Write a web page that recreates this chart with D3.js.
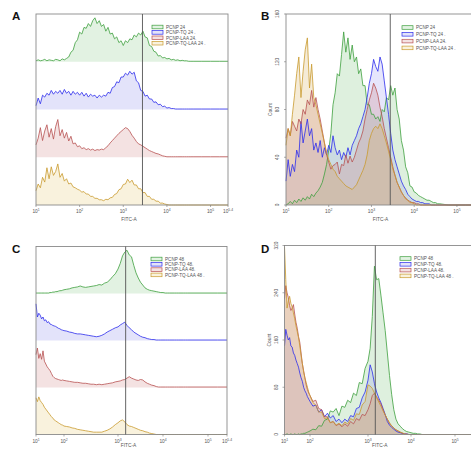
<!DOCTYPE html>
<html>
<head>
<meta charset="utf-8">
<script src="https://cdn.jsdelivr.net/npm/d3@7"></script>
<style>
  body { margin: 0; background: #fff; }
  text { font-family: "Liberation Sans", Arial, sans-serif; }
</style>
</head>
<body>
<div id="chart"></div>
<script>
// FITC-A channel bins, log10 units
const bins = [1.00,1.05,1.10,1.15,1.20,1.25,1.30,1.35,1.40,1.45,
              1.50,1.55,1.60,1.65,1.70,1.75,1.80,1.85,1.90,1.95,
              2.00,2.05,2.10,2.15,2.20,2.25,2.30,2.35,2.40,2.45,
              2.50,2.55,2.60,2.65,2.70,2.75,2.80,2.85,2.90,2.95,
              3.00,3.05,3.10,3.15,3.20,3.25,3.30,3.35,3.40,3.45,
              3.50,3.55,3.60,3.65,3.70,3.75,3.80,3.85,3.90,3.95,
              4.00,4.05,4.10,4.15,4.20,4.25,4.30,4.35,4.40,4.45,
              4.50,4.55,4.60,
              4.80,5.00,5.20,5.40]

const names24 = ["PCNP 24", "PCNP-TQ 24 .", "PCNP-LAA 24.", "PCNP-TQ-LAA 24 ."]
const names48 = ["PCNP 48", "PCNP-TQ 48.", "PCNP-LAA 48.", "PCNP-TQ-LAA 48 ."]
const decadeTicks = [1, 2, 3, 4, 5, 5.4]
const visibleTicksBD = [1, 2, 3, 4, 5]
const countTicksB = [0, 40, 80, 120, 160]
const countTicksD = [0, 80, 160, 240, 320]
const gate24 = 3.44
const gate48 = 3.17

// panel A: offset histograms, % of mode (24 h)
const a24Green = [2,4,2,3,5,2,4,3,2,5, 4,2,6,4,7,10,20,24,40,46, 62,58,72,70,80,74,86,92,80,86,
  74,78,64,72,58,60,48,52,40,44, 34,44,40,48,46,56,52,60,56,64, 52,50,34,32,22,20,12,13,8,9,
  6,7,4,5,3,4,2,3,2,2, 1,1,1, 1,1,1,1]
const a24Blue = [8,24,12,30,26,34,30,40,32,38, 34,40,32,42,34,38,30,38,32,36, 30,36,28,34,26,32,28,30,24,30,
  26,30,28,36,34,46,48,58,56,68, 68,76,72,80,74,78,60,56,40,38, 28,30,22,22,15,16,10,11,6,7,
  3,4,2,2,1,1,1,1,1,1, 1,1,1, 1,1,1,1]
const a24Red = [26,40,62,35,55,68,42,60,38,64, 79,45,58,40,52,34,44,28,30,22, 24,18,20,16,18,15,17,14,16,15,
  17,16,20,24,30,35,40,45,50,54, 58,62,60,54,46,40,33,28,26,23, 20,17,14,12,10,8,7,5,3,2,
  1,1,1,1,1,1,1,1,1,1, 1,1,1, 1,1,1,1]
const a24Yellow = [30,44,36,58,48,78,55,80,62,70, 86,58,66,50,55,44,46,38,36,33, 31,27,28,23,23,18,18,14,14,11,
  11,9,12,11,15,16,22,24,32,34, 43,44,54,47,52,42,42,34,34,26, 26,18,18,12,12,8,8,4,4,2,
  1,0,0,0,0,0,0,0,0,0, 0,0,0, 0,0,0,0]

// panel B: overlaid counts (24 h)
const b24Green = [0,1,3,1,4,2,5,3,6,4, 7,5,9,7,10,12,15,19,26,34, 46,60,84,94,110,108,126,145,128,140,
  122,134,120,124,110,114,100,100,84,84, 76,76,72,74,70,80,78,90,88,100, 92,98,80,72,54,46,32,27,16,15,
  11,10,8,7,6,5,4,4,3,2, 2,1,1, 0,0,0,0]
const b24Blue = [20,38,24,34,28,46,40,70,52,62, 72,58,64,46,52,44,54,40,48,42, 50,44,58,48,42,46,38,44,40,48,
  42,50,54,58,64,68,74,80,90,102, 110,122,116,112,124,118,104,90,76,60, 46,38,32,26,20,16,13,9,7,5,
  4,3,3,2,2,1,1,1,0,0, 0,0,0, 0,0,0,0]
const b24Red = [56,64,58,70,66,62,72,68,80,76, 88,84,96,82,90,80,72,62,52,42, 36,30,33,34,36,26,34,33,42,35,
  41,36,40,46,52,56,62,72,80,88, 94,102,98,92,82,74,64,56,48,40, 32,25,19,15,11,8,6,4,3,2,
  2,1,1,0,0,0,0,0,0,0, 0,0,0, 0,0,0,0]
const b24Orange = [50,64,58,76,92,110,124,90,112,130, 140,98,118,90,84,76,68,60,52,44, 38,34,30,28,24,22,20,18,16,15,
  14,13,15,17,21,25,29,34,42,54, 60,64,66,64,68,64,58,52,45,38, 30,25,19,15,11,8,5,4,2,2,
  1,0,0,0,0,0,0,0,0,0, 0,0,0, 0,0,0,0]

// panel C: offset histograms, % of mode (48 h)
const c48Green = [1,1,1,1,1,1,1,1,1,1, 2,2,3,3,4,4,5,6,6,7, 8,9,10,12,13,14,16,14,13,14,
  15,16,17,19,18,22,24,29,36,42, 52,64,80,88,92,82,78,60,44,33, 24,18,12,9,7,6,5,4,3,2,
  2,1,1,1,1,1,1,1,1,1, 1,1,1, 1,1,1,1]
const c48Blue = [78,50,58,54,46,50,42,44,38,40, 35,34,32,31,30,28,26,25,23,22, 21,20,18,17,15,14,14,13,12,11,
  10,9,8,9,11,14,18,21,24,27, 29,33,36,39,32,27,23,18,15,12, 9,7,6,4,3,2,2,1,1,1,
  1,1,1,1,1,1,1,1,1,1, 1,1,1, 1,1,1,1]
const c48Red = [70,84,62,72,60,78,56,50,44,40, 36,30,24,21,19,18,17,16,15,16, 15,14,13,12,11,11,10,9,9,8,
  7,7,6,7,6,7,8,9,10,12, 13,14,16,17,20,23,20,18,16,15, 17,16,12,9,7,5,4,2,1,1,
  1,1,1,1,1,1,1,1,1,1, 1,1,1, 1,1,1,1]
const c48Yellow = [78,70,80,72,68,64,58,54,50,46, 42,38,35,31,29,27,25,23,21,20, 18,17,16,14,13,11,10,9,8,7,
  6,5,5,5,5,7,9,12,16,21, 25,29,31,27,21,18,17,15,13,11, 9,8,6,5,3,2,1,0,0,0,
  0,0,0,0,0,0,0,0,0,0, 0,0,0, 0,0,0,0]

// panel D: overlaid counts (48 h)
const d48Green = [0,0,1,0,0,1,0,0,1,0, 0,1,0,1,1,2,2,3,4,5, 6,9,8,15,14,24,26,40,38,44,
  32,48,46,58,54,70,66,88,86,112, 124,146,200,285,262,264,236,206,176,138, 100,68,42,26,18,14,10,7,5,4,
  3,2,2,1,1,0,0,0,0,0, 0,0,0, 0,0,0,0]
const d48Blue = [150,178,168,160,164,150,148,138,134,126, 120,114,104,96,90,80,74,70,64,60, 56,48,50,38,42,30,36,28,32,22,
  26,20,26,22,32,30,44,46,62,72, 92,118,106,86,72,62,54,44,34,22, 16,12,9,6,4,3,2,1,1,0,
  0,0,0,0,0,0,0,0,0,0, 0,0,0, 0,0,0,0]
const d48Red = [230,252,240,232,218,210,214,220,204,190, 180,166,156,138,120,108,96,84,76,70, 66,56,58,44,42,30,30,20,22,15,
  18,13,18,14,22,18,27,24,34,32, 42,52,66,70,64,58,52,42,33,26, 19,15,11,8,6,4,2,1,1,0,
  0,0,0,0,0,0,0,0,0,0, 0,0,0, 0,0,0,0]
const d48Orange = [318,262,214,226,234,222,216,206,196,184, 174,164,150,134,120,106,96,88,80,72, 66,54,50,38,38,27,28,20,22,16,
  19,15,21,18,27,24,35,34,50,56, 84,82,78,70,62,55,48,40,33,26, 20,14,11,8,6,4,3,1,0,0,
  0,0,0,0,0,0,0,0,0,0, 0,0,0, 0,0,0,0]

const lineColors = ["#3d9f3d", "#2c2cec", "#b85252", "#c99b2e"]
const bandFills = ["#e2f2e2", "#e3e3fa", "#f4e2e2", "#f9f2dd"]
const overFills = ["#7cc47c", "#8080f0", "#d09090", "#d8b060"]
const overOpacity = [0.25, 0.2, 0.3, 0.25]

const svg = d3.select("#chart").append("svg")
    .attr("width", 471)
    .attr("height", 449)
    .style("display", "block")
svg.append("rect").attr("width", 471).attr("height", 449).attr("fill", "#fff")

function toPoints(vals) {
    return bins.map((b, i) => ({ b: b, v: vals[i] }))
}

function xTickLabels(g, p, x, ticks) {
    const lbl = g.append("g")
    ticks.forEach(t => {
        const t1 = lbl.append("text")
            .attr("x", x(t))
            .attr("y", p.bottom + 8)
            .attr("text-anchor", "middle")
            .attr("font-size", 4.8)
            .attr("fill", "#555")
        t1.append("tspan").text("10")
        t1.append("tspan").attr("dy", -2).attr("font-size", 3.4).text(String(t))
        g.append("line")
            .attr("x1", x(t)).attr("x2", x(t))
            .attr("y1", p.bottom).attr("y2", p.bottom + 2)
            .attr("stroke", "#777").attr("stroke-width", 0.6)
    })
    g.append("text")
        .attr("x", (p.left + Math.min(p.right, 471)) / 2 + (p.right > 471 ? 2 : -3))
        .attr("y", Math.min(p.bottom + 16, 447))
        .attr("text-anchor", "middle")
        .attr("font-size", 4.8)
        .attr("fill", "#555")
        .text("FITC-A")
}

function legend(g, lx, ly, step, names) {
    names.forEach((n, i) => {
        g.append("rect")
            .attr("x", lx).attr("y", ly + i * step - 1.8)
            .attr("width", 11).attr("height", 3.6)
            .attr("fill", bandFills[i])
            .attr("stroke", lineColors[i]).attr("stroke-width", 0.7)
        g.append("text")
            .attr("x", lx + 14).attr("y", ly + i * step + 1.7)
            .attr("font-size", 4.6)
            .attr("fill", "#555")
            .text(n)
    })
}

function panelLetter(x, y, s) {
    svg.append("text").attr("x", x).attr("y", y)
        .attr("font-size", 11.5).attr("font-weight", "bold").attr("fill", "#111")
        .text(s)
}

function stacked(p, x, series, gate, names, lstep) {
    const g = svg.append("g")
    const bandH = (p.bottom - p.top) / series.length
    series.forEach((vals, i) => {
        const base = p.top + bandH * (i + 1)
        const y = d3.scaleLinear().domain([0, 100]).range([base, base - bandH])
        const pts = toPoints(vals)
        g.append("path").datum(pts)
            .attr("fill", bandFills[i])
            .attr("d", d3.area().x(d => x(d.b)).y0(base).y1(d => y(d.v)))
        g.append("path").datum(pts)
            .attr("fill", "none")
            .attr("stroke", lineColors[i]).attr("stroke-width", 0.8)
            .attr("stroke-linejoin", "round")
            .attr("d", d3.line().x(d => x(d.b)).y(d => y(d.v)))
    })
    g.append("rect")
        .attr("x", p.left).attr("y", p.top)
        .attr("width", p.right - p.left).attr("height", p.bottom - p.top)
        .attr("fill", "none").attr("stroke", "#8a8a8a").attr("stroke-width", 0.9)
    g.append("line")
        .attr("x1", x(gate)).attr("x2", x(gate))
        .attr("y1", p.top).attr("y2", p.bottom)
        .attr("stroke", "#555").attr("stroke-width", 0.9)
    xTickLabels(g, p, x, decadeTicks)
    legend(g, p.lx, p.ly, lstep, names)
}

function overlay(p, x, series, gate, names, yTicks, lstep) {
    const g = svg.append("g")
    const y = d3.scaleLinear().domain([0, yTicks[yTicks.length - 1]]).range([p.bottom, p.top])
    const all = series.map(toPoints)
    all.forEach((pts, i) => {
        g.append("path").datum(pts)
            .attr("fill", overFills[i]).attr("fill-opacity", overOpacity[i])
            .attr("d", d3.area().x(d => x(d.b)).y0(p.bottom).y1(d => y(d.v)))
    })
    all.forEach((pts, i) => {
        g.append("path").datum(pts)
            .attr("fill", "none")
            .attr("stroke", lineColors[i]).attr("stroke-width", 0.8)
            .attr("stroke-linejoin", "round")
            .attr("d", d3.line().x(d => x(d.b)).y(d => y(d.v)))
    })
    g.append("rect")
        .attr("x", p.left).attr("y", p.top)
        .attr("width", p.right - p.left).attr("height", p.bottom - p.top)
        .attr("fill", "none").attr("stroke", "#8a8a8a").attr("stroke-width", 0.9)
    g.append("line")
        .attr("x1", x(gate)).attr("x2", x(gate))
        .attr("y1", p.top).attr("y2", p.bottom)
        .attr("stroke", "#555").attr("stroke-width", 0.9)
    yTicks.forEach(t => {
        g.append("line")
            .attr("x1", p.left - 2).attr("x2", p.left)
            .attr("y1", y(t)).attr("y2", y(t))
            .attr("stroke", "#777").attr("stroke-width", 0.6)
        g.append("text")
            .attr("transform", `translate(${p.left - 7},${y(t)}) rotate(-90)`)
            .attr("text-anchor", "middle")
            .attr("font-size", 4.8).attr("fill", "#555")
            .text(t)
    })
    g.append("text")
        .attr("transform", `translate(${p.left - 14},${(p.top + p.bottom) / 2}) rotate(-90)`)
        .attr("text-anchor", "middle")
        .attr("font-size", 4.8).attr("fill", "#555")
        .text("Count")
    xTickLabels(g, p, x, visibleTicksBD)
    legend(g, p.lx, p.ly, lstep, names)
}

const pA = { left: 36, right: 228, top: 14, bottom: 205, lx: 152, ly: 27 }
const pB = { left: 286, right: 474, top: 14, bottom: 205, lx: 402, ly: 27.5 }
const pC = { left: 36, right: 227, top: 246.5, bottom: 434.5, lx: 151, ly: 259 }
const pD = { left: 284.5, right: 473, top: 245.5, bottom: 434.5, lx: 400, ly: 258.5 }

const xA = d3.scaleLinear().domain([1, 5.4]).range([pA.left, pA.right])
const xB = d3.scaleLinear().domain([1, 5.4]).range([pB.left, pB.right])
const xC = d3.scaleLinear().domain(decadeTicks).range([36, 64, 118, 163, 208, 227])
const xD = d3.scaleLinear().domain(decadeTicks).range([284.5, 310, 368, 411, 455, 473])

stacked(pA, xA, [a24Green, a24Blue, a24Red, a24Yellow], gate24, names24, 5.4)
overlay(pB, xB, [b24Green, b24Blue, b24Red, b24Orange], gate24, names24, countTicksB, 6.8)
stacked(pC, xC, [c48Green, c48Blue, c48Red, c48Yellow], gate48, names48, 5.3)
overlay(pD, xD, [d48Green, d48Blue, d48Red, d48Orange], gate48, names48, countTicksD, 5.8)

panelLetter(12, 20, "A")
panelLetter(261, 20, "B")
panelLetter(12, 253, "C")
panelLetter(261, 253, "D")
</script>
</body>
</html>
